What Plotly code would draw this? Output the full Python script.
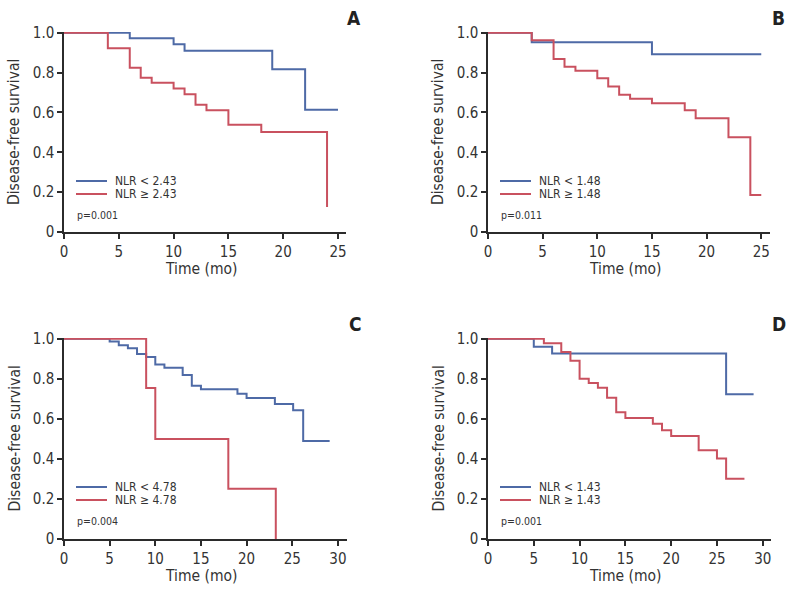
import plotly.graph_objects as go

# ---------------- data ----------------
# Panel A
a_low_t = [0, 6, 10, 11, 19, 22, 25]
a_low_s = [1.0, 0.972, 0.942, 0.910, 0.817, 0.614, 0.614]
a_high_t = [0, 4, 6, 7, 8, 10, 11, 12, 13, 15, 18, 24]
a_high_s = [1.0, 0.922, 0.825, 0.774, 0.749, 0.720, 0.692, 0.639, 0.611, 0.539, 0.502, 0.125]
# Panel B
b_low_t = [0, 4, 15, 25]
b_low_s = [1.0, 0.952, 0.892, 0.892]
b_high_t = [0, 4, 6, 7, 8, 10, 11, 12, 13, 15, 18, 19, 22, 24, 25]
b_high_s = [1.0, 0.962, 0.869, 0.829, 0.810, 0.772, 0.730, 0.689, 0.669, 0.646, 0.611, 0.571, 0.476, 0.186, 0.186]
# Panel C
c_low_t = [0, 5, 6, 7, 8, 9, 10, 11, 13, 14, 15, 19, 20, 23.1, 25.1, 26.2, 29.1]
c_low_s = [1.0, 0.987, 0.968, 0.953, 0.924, 0.909, 0.872, 0.855, 0.819, 0.766, 0.748, 0.726, 0.704, 0.674, 0.643, 0.490, 0.490]
c_high_t = [0, 9, 10, 18, 23.2]
c_high_s = [1.0, 0.754, 0.5, 0.251, 0.0]
# Panel D
d_low_t = [0, 5, 7, 26, 29]
d_low_s = [1.0, 0.960, 0.927, 0.723, 0.723]
d_high_t = [0, 6.1, 8, 9, 10, 11, 12, 13, 14, 15, 18, 19, 20, 23, 25, 26, 28]
d_high_s = [1.0, 0.978, 0.934, 0.890, 0.801, 0.779, 0.756, 0.706, 0.633, 0.605, 0.576, 0.543, 0.515, 0.443, 0.402, 0.301, 0.301]

panel_letters = ["A", "B", "C", "D"]
cutoffs = ["2.43", "1.48", "4.78", "1.43"]
p_values = ["p=0.001", "p=0.011", "p=0.004", "p=0.001"]
x_ticks = [[0, 5, 10, 15, 20, 25], [0, 5, 10, 15, 20, 25],
           [0, 5, 10, 15, 20, 25, 30], [0, 5, 10, 15, 20, 25, 30]]
y_ticks = [0, 0.2, 0.4, 0.6, 0.8, 1.0]
y_ticktext = ["0", "0.2", "0.4", "0.6", "0.8", "1.0"]

series = [
    (a_low_t, a_low_s, a_high_t, a_high_s),
    (b_low_t, b_low_s, b_high_t, b_high_s),
    (c_low_t, c_low_s, c_high_t, c_high_s),
    (d_low_t, d_low_s, d_high_t, d_high_s),
]

# ---------------- layout ----------------
W, H = 792, 595
BLUE = "#4e6aa6"
RED = "#c9515f"
FONT = "DejaVu Sans Condensed, Liberation Sans Narrow, Roboto, sans-serif"
TXT = "#333333"
AXC = "#2b2b2b"

# pixel boxes: (x_left, x_right, y_top, y_bottom, x range max)
boxes = [
    (64, 346, 32, 232, 25.73),
    (488, 770, 32, 232, 25.8),
    (64, 347, 338, 539, 31.0),
    (488, 771, 338, 539, 30.9),
]

fig = go.Figure()
layout = dict(
    width=W, height=H, margin=dict(l=0, r=0, t=0, b=0),
    paper_bgcolor="white", plot_bgcolor="white",
    font=dict(family=FONT, color=TXT, size=14),
    showlegend=False,
    annotations=[], shapes=[],
)


def px(x):
    return x / W


def py(y):
    return 1 - y / H


for i, (lt, ls, ht, hs) in enumerate(series):
    n = "" if i == 0 else str(i + 1)
    xa, ya = "x" + n, "y" + n
    names = ["NLR < " + cutoffs[i], "NLR \u2265 " + cutoffs[i]]
    fig.add_trace(go.Scatter(x=lt, y=ls, mode="lines", line=dict(color=BLUE, width=2, shape="hv"),
                             name=names[0], xaxis=xa, yaxis=ya))
    fig.add_trace(go.Scatter(x=ht, y=hs, mode="lines", line=dict(color=RED, width=2, shape="hv"),
                             name=names[1], xaxis=xa, yaxis=ya))
    xl, xr, yt, yb, xmax = boxes[i]
    layout["xaxis" + n] = dict(
        domain=[px(xl), px(xr)], range=[0, xmax], anchor=ya, automargin=False,
        tickvals=x_ticks[i], ticks="outside", ticklen=5, tickwidth=1.5, tickcolor=AXC,
        showline=True, linecolor=AXC, linewidth=1.5, showgrid=False, zeroline=False,
        tickfont=dict(size=15, family=FONT, color=TXT),
    )
    layout["yaxis" + n] = dict(
        domain=[py(yb), py(yt)], range=[0, 1.004], anchor=xa, automargin=False,
        tickvals=y_ticks, ticktext=y_ticktext, ticks="outside", ticklen=5, tickwidth=1.5, tickcolor=AXC,
        showline=True, linecolor=AXC, linewidth=1.5, showgrid=False, zeroline=False,
        tickfont=dict(size=15, family=FONT, color=TXT),
    )
    # axis titles
    layout["annotations"].append(dict(
        text="Time (mo)", x=px((xl + xr) / 2 - 4), y=py(yb + 37), xref="paper", yref="paper",
        xanchor="center", yanchor="middle", showarrow=False, font=dict(size=15.5, family=FONT, color=TXT)))
    layout["annotations"].append(dict(
        text="Disease-free survival", x=px(xl - 50), y=py((yt + yb) / 2), xref="paper", yref="paper",
        xanchor="center", yanchor="middle", textangle=-90, showarrow=False,
        font=dict(size=15.5, family=FONT, color=TXT)))
    # legend (key lines + labels)
    for k, (col, off) in enumerate([(BLUE, 149), (RED, 162)]):
        layout["shapes"].append(dict(type="line", xref="paper", yref="paper",
                                     x0=px(xl + 12), x1=px(xl + 43), y0=py(yt + off), y1=py(yt + off),
                                     line=dict(color=col, width=2)))
        layout["annotations"].append(dict(
            text=names[k], x=px(xl + 49), y=py(yt + off), xref="paper", yref="paper",
            xanchor="left", yanchor="middle", showarrow=False, font=dict(size=12, family=FONT, color=TXT)))
    layout["annotations"].append(dict(
        text=p_values[i], x=px(xl + 11), y=py(yt + 183), xref="paper", yref="paper",
        xanchor="left", yanchor="middle", showarrow=False, font=dict(size=10.5, family=FONT, color=TXT)))
    layout["annotations"].append(dict(
        text="<b>" + panel_letters[i] + "</b>", x=px(xr + 8), y=py(yt - 14),
        xref="paper", yref="paper", xanchor="center", yanchor="middle", showarrow=False,
        font=dict(size=19, family=FONT, color="#222222")))

fig.update_layout(**layout)
fig.write_html("out.html", config={"displayModeBar": False},
               post_script="document.body.style.margin='0';document.body.style.overflow='hidden';")
